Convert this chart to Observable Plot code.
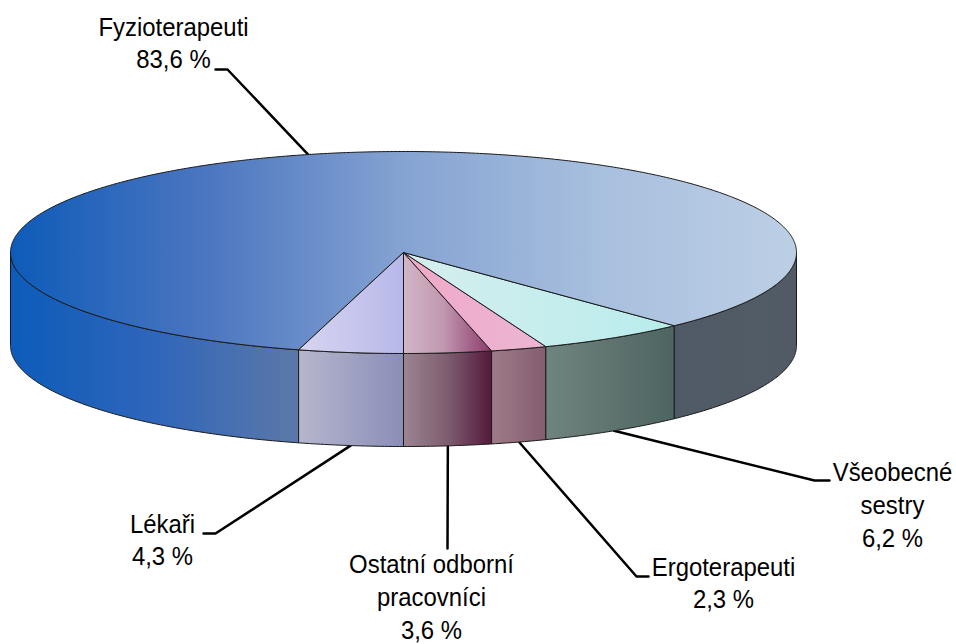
<!DOCTYPE html>
<html lang="cs">
<head>
<meta charset="utf-8">
<style>html,body{margin:0;padding:0;background:#fff}svg{display:block}</style>
<script src="https://cdn.jsdelivr.net/npm/d3@7"></script>
<script src="https://cdn.jsdelivr.net/npm/@observablehq/plot@0.6"></script>
</head>
<body>
<div id="chart"></div>
<script>
// Data, in drawing order going counter-clockwise from 6 o'clock
const categories = ["Ostatní odborní\npracovníci", "Ergoterapeuti", "Všeobecné\nsestry", "Fyzioterapeuti", "Lékaři"];
const shares = [3.6, 2.3, 6.2, 83.6, 4.3];
const shareLabels = ["3,6 %", "2,3 %", "6,2 %", "83,6 %", "4,3 %"];

// Layout, kept apart from the data
const pie = {cx: 403, cy: 252, rx: 393, ry: 101, depth: 93};
const labelAt = [[431, 595], [723, 581], [892, 503], [173, 41], [162, 538]];
const leaderVia = [[[447, 548]], [[636, 576], [648, 576]], [[814, 480], [829, 480]], [[227, 69], [215, 69]], [[215, 533], [203, 533]]];
const rimDrop = [1, 1, 1, 0, 1];
const topGrad = [
  [[0, "#d2b6c6"], [0.45, "#c198af"], [1, "#8c3a6b"]],
  [[0, "#f0a8c8"], [1, "#ebb6d2"]],
  [[0, "#d6eeee"], [1, "#b8ecec"]],
  [[0, "#0d5bb9"], [0.25, "#4c76c0"], [0.5, "#85a3d2"], [0.75, "#a8bfde"], [1, "#bccfe5"]],
  [[0, "#d8d5f0"], [1, "#b7b8ea"]]
];
const sideGrad = {
  s0: [[0, "#9c8491"], [0.5, "#7e5d70"], [1, "#54183a"]],
  s1: [[0, "#9e7b89"], [1, "#845d70"]],
  s2: [[0, "#70847f"], [1, "#4e6460"]],
  s3l: [[0, "#0c5bba"], [0.5, "#2f66ba"], [1, "#5c78a8"]],
  s3r: [[0, "#505a66"], [1, "#525b65"]],
  s4: [[0, "#b6b6cd"], [1, "#8a8eb8"]]
};

const total = d3.sum(shares);
const bounds = [0, ...d3.cumsum(shares)].map((s) => (s / total) * 2 * Math.PI);
const pt = (a, drop = 0) => [pie.cx + pie.rx * Math.sin(a), pie.cy + pie.ry * Math.cos(a) + drop];
const arc = (a0, a1, drop = 0) => {
  const n = Math.max(2, Math.ceil(Math.abs(a1 - a0) / 0.01));
  return d3.range(n + 1).map((i) => pt(a0 + ((a1 - a0) * i) / n, drop));
};

const edge = {stroke: "#1a1a1a", strokeWidth: 1, strokeLinejoin: "round"};
const polygon = (pts, id) => Plot.line([...pts, pts[0]], {x: "0", y: "1", fill: `url(#${id})`, ...edge});

// Visible side faces: only the front half of the rim
const q = Math.PI / 2;
const sides = [
  [bounds[0], bounds[1], "s0"],
  [bounds[1], bounds[2], "s1"],
  [bounds[2], bounds[3], "s2"],
  [bounds[3], q, "s3r"],
  [3 * q, bounds[4], "s3l"],
  [bounds[4], 2 * Math.PI, "s4"]
];
const sideMarks = sides.map(([a0, a1, id]) =>
  polygon([...arc(a0, a1), ...arc(a1, a0, pie.depth)], id));

const topMarks = shares.map((_, i) =>
  polygon([[pie.cx, pie.cy], ...arc(bounds[i], bounds[i + 1])], "t" + i));

const leaders = shares.map((_, i) => {
  const mid = (bounds[i] + bounds[i + 1]) / 2;
  return [pt(mid, rimDrop[i] ? pie.depth : 0), ...leaderVia[i]];
});

const labels = categories.map((c, i) => ({
  text: c + "\n" + shareLabels[i], x: labelAt[i][0], y: labelAt[i][1]
}));

const defs = () => {
  const d = d3.create("svg:defs");
  const add = (id, stops) => {
    const g = d.append("linearGradient").attr("id", id).attr("x1", 0).attr("x2", 1).attr("y1", 0).attr("y2", 0);
    stops.forEach(([o, c]) => g.append("stop").attr("offset", o).attr("stop-color", c));
  };
  topGrad.forEach((s, i) => add("t" + i, s));
  Object.entries(sideGrad).forEach(([k, s]) => add(k, s));
  return d.node();
};

// The reference lettering is slightly condensed: taller glyphs at the same width
const condense = (index, scales, values, dims, context, next) => {
  const g = next(index, scales, values, dims, context);
  d3.select(g).selectAll("text").attr("transform", function () {
    return (this.getAttribute("transform") || "") + " scale(0.92,1)";
  });
  return g;
};

const chart = Plot.plot({
  width: 956, height: 644,
  margin: 0,
  style: {background: "#fff", overflow: "visible"},
  x: {domain: [0, 956], range: [0, 956], axis: null},
  y: {domain: [0, 644], range: [0, 644], axis: null},
  marks: [
    defs,
    ...leaders.map((l) => Plot.line(l, {x: "0", y: "1", stroke: "#000", strokeWidth: 2.5, strokeLinejoin: "miter"})),
    ...sideMarks,
    ...topMarks,
    Plot.text(labels, {
      x: "x", y: "y", text: "text",
      fontFamily: "Liberation Sans, Arial, sans-serif",
      fontSize: 26, lineHeight: 1.26, fill: "#000", textAnchor: "middle", lineAnchor: "middle",
      render: condense
    })
  ]
});
document.getElementById("chart").append(chart);
</script>
</body>
</html>
